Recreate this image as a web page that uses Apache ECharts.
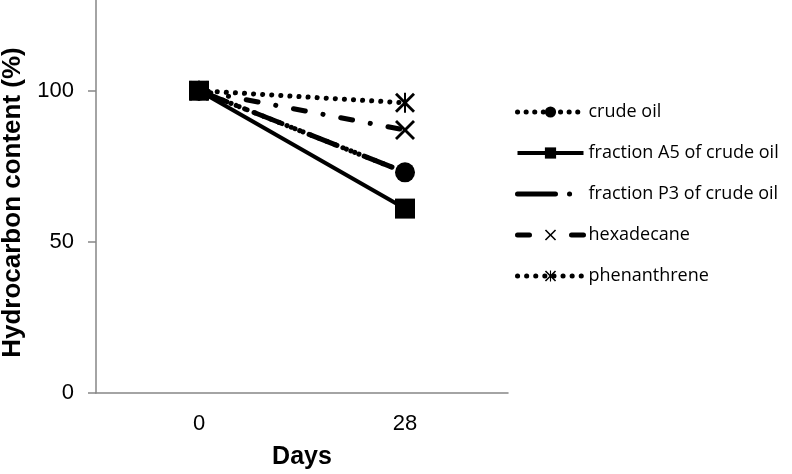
<!DOCTYPE html>
<html><head><meta charset="utf-8">
<script src="https://cdn.jsdelivr.net/npm/echarts@6/dist/echarts.min.js"></script>
<style>html,body{margin:0;padding:0;background:#fff}#c{width:792px;height:474px}</style>
</head><body><div id="c"></div>
<script>
const categories = ['0', '28'];
const seriesNames = ['crude oil', 'fraction A5 of crude oil', 'fraction P3 of crude oil', 'hexadecane', 'phenanthrene'];
const crudeOil = [100, 73];
const fractionA5 = [100, 61];
const fractionP3 = [100, 73];
const hexadecane = [100, 87];
const phenanthrene = [100, 96];
const yTicks = [0, 50, 100];

const X_PATH = 'path://M0,2L2,0L10,8L18,0L20,2L12,10L20,18L18,20L10,12L2,20L0,18L8,10Z';
const AST_PATH = 'path://M0,2L2,0L10,8L18,0L20,2L12,10L20,18L18,20L10,12L2,20L0,18L8,10ZM9,0L11,0L11,20L9,20Z';

const chart = echarts.init(document.getElementById('c'));
const base = {type: 'line', symbolSize: 20, itemStyle: {color: '#000'}};
chart.setOption({
  animation: false,
  grid: {left: 96, right: 284, top: 0, bottom: 81, outerBoundsMode: 'none', containLabel: false},
  legend: {
    orient: 'vertical', left: 515, top: 102, padding: 0,
    itemWidth: 66, itemHeight: 14, itemGap: 21,
    lineStyle: {width: 'inherit'},
    textStyle: {fontFamily: 'Open Sans', fontSize: 18, color: '#000', lineHeight: 20},
    data: [
      {name: seriesNames[0]},
      {name: seriesNames[1]},
      {name: seriesNames[2], itemStyle: {opacity: 0}, lineStyle: {type: [38, 14, 0.1, 30], cap: 'round', width: 5}},
      {name: seriesNames[3], lineStyle: {type: [12, 42, 14], cap: 'round', width: 5}},
      {name: seriesNames[4]}
    ]
  },
  xAxis: {
    type: 'category', data: categories, boundaryGap: true,
    axisLine: {lineStyle: {color: '#868686', width: 1.5}},
    axisTick: {show: false},
    axisLabel: {color: '#000', fontFamily: 'Liberation Sans', fontSize: 22, margin: 20},
    name: 'Days', nameLocation: 'middle', nameGap: 52,
    nameTextStyle: {color: '#000', fontFamily: 'Liberation Sans', fontSize: 25, fontWeight: 'bold'}
  },
  yAxis: {
    type: 'value', min: 0, max: 130, interval: 50,
    splitLine: {show: false},
    axisLine: {show: true, lineStyle: {color: '#868686', width: 1.5}},
    axisTick: {show: true, length: 8, customValues: yTicks, lineStyle: {color: '#868686', width: 1.5}},
    axisLabel: {color: '#000', fontFamily: 'Liberation Sans', fontSize: 22, margin: 22, customValues: yTicks},
    name: 'Hydrocarbon content (%)', nameLocation: 'middle', nameGap: 70, nameRotate: 90,
    nameTextStyle: {color: '#000', fontFamily: 'Liberation Sans', fontSize: 26, fontWeight: 'bold', padding: [0, 12, 0, 0]}
  },
  series: [
    Object.assign({}, base, {name: seriesNames[0], data: crudeOil, symbol: 'circle', z: 3,
      lineStyle: {color: '#000', width: 5, type: [0.1, 8.5], cap: 'round'}}),
    Object.assign({}, base, {name: seriesNames[2], data: fractionP3, symbol: 'none', z: 2,
      lineStyle: {color: '#000', width: 5, type: [30, 10, 0.1, 9, 0.1, 10], cap: 'round'}}),
    Object.assign({}, base, {name: seriesNames[3], data: hexadecane, symbol: X_PATH, z: 3,
      lineStyle: {color: '#000', width: 5, type: [12, 18, 0.1, 18], cap: 'round'}}),
    Object.assign({}, base, {name: seriesNames[4], data: phenanthrene, symbol: AST_PATH, z: 3,
      lineStyle: {color: '#000', width: 5, type: [0.1, 9], cap: 'round'}}),
    Object.assign({}, base, {name: seriesNames[1], data: fractionA5, symbol: 'rect', z: 5,
      lineStyle: {color: '#000', width: 4, type: 'solid'}})
  ]
});
</script></body></html>
